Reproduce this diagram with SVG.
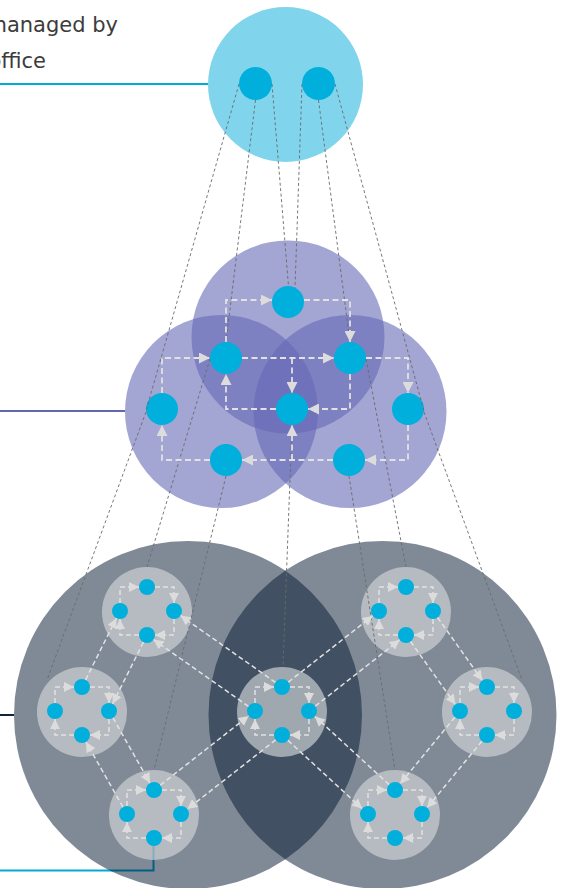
<svg xmlns="http://www.w3.org/2000/svg" width="565" height="888" viewBox="0 0 565 888">
<defs>
<style>
.lbl{font-family:"DejaVu Sans","Open Sans","Liberation Sans",sans-serif;font-size:21px;fill:#3c3c3c}
.dot{fill:#00afdb}
.tier1{fill:#80d5ed}
.tier2{fill:#6569b6;fill-opacity:0.6}
.tier3{fill:#01152d;fill-opacity:0.5}
.cl{fill:#d2d5d9;fill-opacity:0.65}
.proj{fill:none;stroke:#6a6a6a;stroke-width:0.9;stroke-dasharray:3 2.5}
.flow{fill:none;stroke:#e2e2e2;stroke-width:1.5;stroke-dasharray:5 3;marker-end:url(#ah)}
.flowm{fill:none;stroke:#e2e2e2;stroke-width:1.8;stroke-dasharray:6 3.5;marker-end:url(#ahm)}
.lead{fill:none;stroke-width:2}
</style>
<marker id="ah" viewBox="0 0 10 10" refX="10" refY="5" markerWidth="10" markerHeight="10" markerUnits="userSpaceOnUse" orient="auto"><path d="M0,0 L10,5 L0,10 z" fill="#dcdcdc"/></marker>
<marker id="ahm" viewBox="0 0 10 10" refX="10" refY="5" markerWidth="11" markerHeight="11" markerUnits="userSpaceOnUse" orient="auto"><path d="M0,0 L10,5 L0,10 z" fill="#dcdcdc"/></marker>
</defs>

<g id="label">
<text class="lbl" x="118" y="32" text-anchor="end">managed by</text>
<text class="lbl" x="46" y="68" text-anchor="end">office</text>
</g>

<g id="leaders" class="lead">
<path d="M0,84H208" stroke="#00a9d6"/>
<path d="M0,411H125" stroke="#6367b1"/>
<path d="M0,715H14" stroke="#11243c"/>
<path d="M153.5,838V870.5H0" stroke="#00a9d6"/>
</g>

<g id="tier-top">
<circle class="tier1" cx="285.5" cy="84.5" r="77.5"/>
</g>
<g id="top-dot-1"><circle class="dot" cx="255.5" cy="83.5" r="16.5"/></g>
<g id="top-dot-2"><circle class="dot" cx="318.5" cy="83.5" r="16.5"/></g>

<g id="tier-mid">
<circle class="tier2" cx="288" cy="337" r="96.5"/>
<circle class="tier2" cx="221.5" cy="411.5" r="96.5"/>
<circle class="tier2" cx="350" cy="411.5" r="96.5"/>
</g>
<g id="mid-top"><circle class="dot" cx="288" cy="302" r="16"/></g>
<g id="mid-lu"><circle class="dot" cx="226" cy="358" r="16"/></g>
<g id="mid-ru"><circle class="dot" cx="350" cy="358" r="16"/></g>
<g id="mid-center"><circle class="dot" cx="292" cy="409" r="16"/></g>
<g id="mid-fl"><circle class="dot" cx="162" cy="409" r="16"/></g>
<g id="mid-fr"><circle class="dot" cx="408" cy="409" r="16"/></g>
<g id="mid-bl"><circle class="dot" cx="226" cy="460" r="16"/></g>
<g id="mid-br"><circle class="dot" cx="349" cy="460" r="16"/></g>

<g id="tier-bottom">
<circle class="tier3" cx="188" cy="715" r="174"/>
<circle class="tier3" cx="382.5" cy="715" r="174"/>
</g>

<g id="cluster-tl" transform="translate(147,612)"><circle class="cl" r="45"/><circle class="dot" cx="0" cy="-25" r="8"/><circle class="dot" cx="-27" cy="-1" r="8"/><circle class="dot" cx="27" cy="-1" r="8"/><circle class="dot" cx="0" cy="23" r="8"/></g>
<g id="cluster-l" transform="translate(82,712)"><circle class="cl" r="45"/><circle class="dot" cx="0" cy="-25" r="8"/><circle class="dot" cx="-27" cy="-1" r="8"/><circle class="dot" cx="27" cy="-1" r="8"/><circle class="dot" cx="0" cy="23" r="8"/></g>
<g id="cluster-bl" transform="translate(154,815)"><circle class="cl" r="45"/><circle class="dot" cx="0" cy="-25" r="8"/><circle class="dot" cx="-27" cy="-1" r="8"/><circle class="dot" cx="27" cy="-1" r="8"/><circle class="dot" cx="0" cy="23" r="8"/></g>
<g id="cluster-c" transform="translate(282,712)"><circle class="cl" r="45"/><circle class="dot" cx="0" cy="-25" r="8"/><circle class="dot" cx="-27" cy="-1" r="8"/><circle class="dot" cx="27" cy="-1" r="8"/><circle class="dot" cx="0" cy="23" r="8"/></g>
<g id="cluster-tr" transform="translate(406,612)"><circle class="cl" r="45"/><circle class="dot" cx="0" cy="-25" r="8"/><circle class="dot" cx="-27" cy="-1" r="8"/><circle class="dot" cx="27" cy="-1" r="8"/><circle class="dot" cx="0" cy="23" r="8"/></g>
<g id="cluster-r" transform="translate(487,712)"><circle class="cl" r="45"/><circle class="dot" cx="0" cy="-25" r="8"/><circle class="dot" cx="-27" cy="-1" r="8"/><circle class="dot" cx="27" cy="-1" r="8"/><circle class="dot" cx="0" cy="23" r="8"/></g>
<g id="cluster-br" transform="translate(395,815)"><circle class="cl" r="45"/><circle class="dot" cx="0" cy="-25" r="8"/><circle class="dot" cx="-27" cy="-1" r="8"/><circle class="dot" cx="27" cy="-1" r="8"/><circle class="dot" cx="0" cy="23" r="8"/></g>

<g id="connectors">
<g id="projections" class="proj">
<path d="M239,84L146,411"/>
<path d="M255.5,100L226,342"/>
<path d="M272,84L288.5,286"/>
<path d="M302,84L295,288"/>
<path d="M318.5,100L350,342"/>
<path d="M335,84L424,411"/>
<path d="M146,412L47,680"/>
<path d="M210,359L147,567"/>
<path d="M226,476L154,770"/>
<path d="M292,425L283,667"/>
<path d="M349,476L395,770"/>
<path d="M366,359L406,567"/>
<path d="M424,412L522,680"/>
</g>
<g id="mid-flows" class="flowm">
<path d="M226,342V300H272"/>
<path d="M304,300H350V342"/>
<path d="M242,358H334"/>
<path d="M292,358V393"/>
<path d="M366,358H408V393"/>
<path d="M350,374V409H308"/>
<path d="M276,409H226V374"/>
<path d="M408,425V460H365"/>
<path d="M333,460H242"/>
<path d="M292,460V425"/>
<path d="M210,460H162V425"/>
<path d="M162,393V358H210"/>
</g>
<g id="cluster-loops" class="flow">
<g transform="translate(147,612)"><path d="M-27,-9V-25H-8"/><path d="M8,-25H27V-9"/><path d="M27,7V23H8"/><path d="M-8,23H-27V7"/></g>
<g transform="translate(82,712)"><path d="M-27,-9V-25H-8"/><path d="M8,-25H27V-9"/><path d="M27,7V23H8"/><path d="M-8,23H-27V7"/></g>
<g transform="translate(154,815)"><path d="M-27,-9V-25H-8"/><path d="M8,-25H27V-9"/><path d="M27,7V23H8"/><path d="M-8,23H-27V7"/></g>
<g transform="translate(282,712)"><path d="M-27,-9V-25H-8"/><path d="M8,-25H27V-9"/><path d="M27,7V23H8"/><path d="M-8,23H-27V7"/></g>
<g transform="translate(406,612)"><path d="M-27,-9V-25H-8"/><path d="M8,-25H27V-9"/><path d="M27,7V23H8"/><path d="M-8,23H-27V7"/></g>
<g transform="translate(487,712)"><path d="M-27,-9V-25H-8"/><path d="M8,-25H27V-9"/><path d="M27,7V23H8"/><path d="M-8,23H-27V7"/></g>
<g transform="translate(395,815)"><path d="M-27,-9V-25H-8"/><path d="M8,-25H27V-9"/><path d="M27,7V23H8"/><path d="M-8,23H-27V7"/></g>
</g>
<g id="cluster-links" class="flow">
<path d="M85.6,679.8L116.4,618.2"/>
<path d="M143.4,642.2L112.6,703.8"/>
<path d="M113,717.9L150,783.1"/>
<path d="M123,807.1L86,742"/>
<path d="M248.5,706.4L153.5,639.6"/>
<path d="M275.5,682.4L180.5,615.6"/>
<path d="M160.3,785.1L248.7,715.9"/>
<path d="M275.7,739.9L187.3,809.1"/>
<path d="M288.3,682.1L372.7,615.9"/>
<path d="M315.3,706.1L399.7,639.9"/>
<path d="M389.1,784.6L314.9,716.4"/>
<path d="M287.9,740.4L362.1,808.6"/>
<path d="M437.6,617.5L482.4,680.5"/>
<path d="M410.6,641.5L455.4,704.5"/>
<path d="M454.9,717.2L400.1,783.8"/>
<path d="M481.9,741.2L427.1,807.8"/>
</g>
</g>
</svg>
